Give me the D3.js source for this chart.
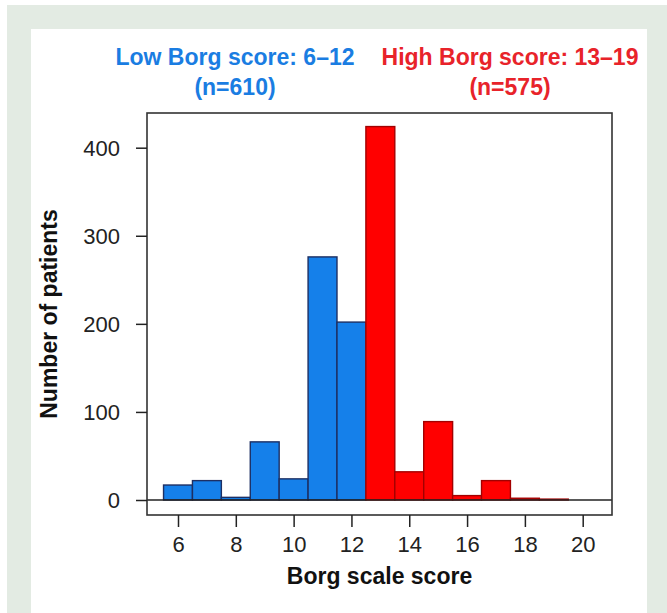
<!DOCTYPE html>
<html>
<head>
<meta charset="utf-8">
<script src="https://cdn.jsdelivr.net/npm/d3@7"></script>
<style>
  html, body { margin: 0; padding: 0; background: #ffffff; }
  svg { display: block; font-family: "Liberation Sans", Arial, Helvetica, sans-serif; }
</style>
</head>
<body>
<svg id="chart" width="667" height="613"></svg>
<script>
// ---- data ----
const scores = [6, 7, 8, 9, 10, 11, 12, 13, 14, 15, 16, 17, 18, 19];
const counts = [17, 22, 3, 66, 24, 276, 202, 424, 32, 89, 5, 22, 2, 1];
const groups = ["low", "low", "low", "low", "low", "low", "low",
                "high", "high", "high", "high", "high", "high", "high"];
const xTicks = [6, 8, 10, 12, 14, 16, 18, 20];
const yTicks = [0, 100, 200, 300, 400];
const groupTitles = ["Low Borg score: 6–12", "High Borg score: 13–19"];
const groupCounts = ["(n=610)", "(n=575)"];

// ---- layout ----
const svg = d3.select("#chart");
const W = 667, H = 613;
const box = { left: 147, right: 612, top: 113, bottom: 515 };
const colors = {
  low:  { fill: "#1580ea", stroke: "#1d2f63", text: "#1a7de2" },
  high: { fill: "#ff0000", stroke: "#a30000", text: "#e8232a" }
};

// background frame
svg.append("rect").attr("x", 7).attr("y", 5).attr("width", W - 7).attr("height", H - 5).attr("fill", "#e3ebe3");
svg.append("rect").attr("x", 31).attr("y", 29).attr("width", 616).attr("height", H - 29).attr("fill", "#ffffff");

const x = d3.scaleLinear().domain([6, 20]).range([178, 582.7]);
const y = d3.scaleLinear().domain([0, 400]).range([500, 147.7]);

// bars
svg.append("g").selectAll("rect").data(scores).join("rect")
  .attr("x", (d) => x(d - 0.5))
  .attr("width", (d) => x(d + 0.5) - x(d - 0.5))
  .attr("y", (d, i) => y(counts[i]))
  .attr("height", (d, i) => y(0) - y(counts[i]))
  .attr("fill", (d, i) => colors[groups[i]].fill)
  .attr("stroke", (d, i) => colors[groups[i]].stroke)
  .attr("stroke-width", 1.4);

// zero baseline
svg.append("line")
  .attr("x1", box.left).attr("x2", box.right)
  .attr("y1", y(0)).attr("y2", y(0))
  .attr("stroke", "#222").attr("stroke-width", 1.5);

// box
svg.append("rect")
  .attr("x", box.left).attr("y", box.top)
  .attr("width", box.right - box.left).attr("height", box.bottom - box.top)
  .attr("fill", "none").attr("stroke", "#333").attr("stroke-width", 1.6);

// y axis
const yAxis = d3.axisLeft(y).tickValues(yTicks).tickSize(11).tickPadding(16).tickFormat(d3.format("d"));
const gy = svg.append("g").attr("transform", `translate(${box.left},0)`).call(yAxis);
gy.select(".domain").remove();
gy.selectAll(".tick line").attr("stroke", "#222").attr("stroke-width", 1.5);
gy.selectAll(".tick text").attr("font-size", 22).attr("fill", "#222")
  .attr("font-family", "'Liberation Sans', Arial, sans-serif").attr("dy", "0.36em");

// x axis
const xAxis = d3.axisBottom(x).tickValues(xTicks).tickSize(12).tickPadding(9).tickFormat(d3.format("d"));
const gx = svg.append("g").attr("transform", `translate(0,${box.bottom})`).call(xAxis);
gx.select(".domain").remove();
gx.selectAll(".tick line").attr("stroke", "#222").attr("stroke-width", 1.5);
gx.selectAll(".tick text").attr("font-size", 22).attr("fill", "#222")
  .attr("font-family", "'Liberation Sans', Arial, sans-serif");

// axis titles
svg.append("text")
  .attr("x", (box.left + box.right) / 2).attr("y", 584)
  .attr("text-anchor", "middle").attr("font-size", 23).attr("font-weight", "bold").attr("fill", "#111")
  .text("Borg scale score");

svg.append("text")
  .attr("transform", `translate(57,${(box.top + box.bottom) / 2}) rotate(-90)`)
  .attr("text-anchor", "middle").attr("font-size", 23).attr("font-weight", "bold").attr("fill", "#111")
  .text("Number of patients");

// group titles
const titleCx = [235, 510];
["low", "high"].forEach((g, i) => {
  svg.append("text")
    .attr("x", titleCx[i]).attr("y", 65)
    .attr("text-anchor", "middle").attr("font-size", 23).attr("font-weight", "bold")
    .attr("fill", colors[g].text).text(groupTitles[i]);
  svg.append("text")
    .attr("x", titleCx[i]).attr("y", 95)
    .attr("text-anchor", "middle").attr("font-size", 23).attr("font-weight", "bold")
    .attr("fill", colors[g].text).text(groupCounts[i]);
});
</script>
</body>
</html>
